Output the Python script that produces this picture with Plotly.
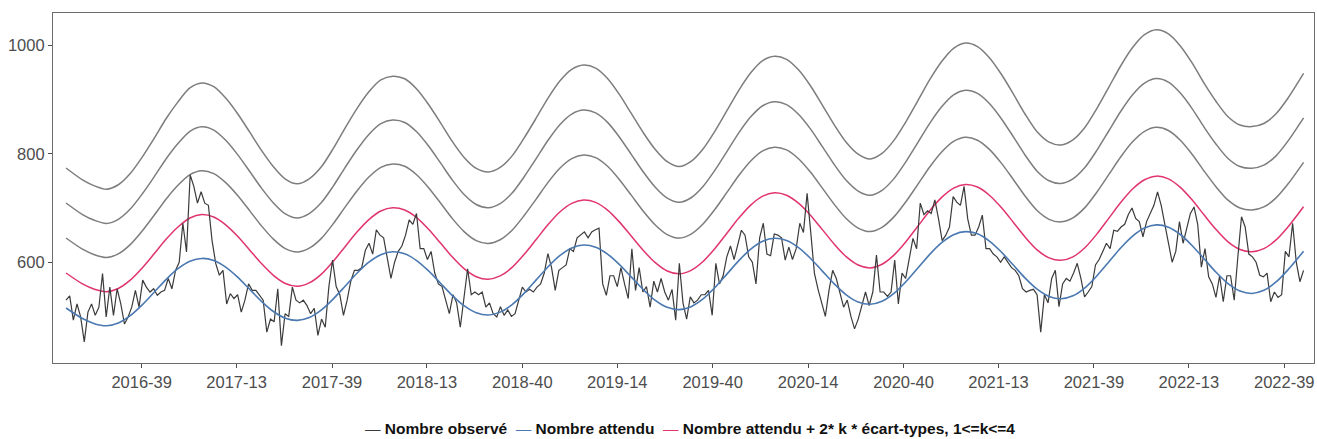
import pandas as pd
import plotly.graph_objects as go

# Série hebdomadaire observée (semaines à partir du lundi 2016-05-09)
debut = "2016-05-09"
nombre_observe = [
    530, 538, 493, 523, 499, 453, 508, 523, 502, 517,
    579, 499, 554, 502, 551, 523, 486, 499, 517, 548,
    517, 567, 554, 545, 551, 539, 545, 548, 570, 551,
    585, 600, 672, 619, 761, 740, 709, 730, 709, 705,
    640, 598, 576, 585, 523, 542, 533, 540, 508, 530,
    560, 548, 548, 540, 530, 471, 495, 490, 551, 446,
    505, 500, 554, 530, 525, 530, 520, 505, 515, 465,
    495, 480, 555, 604, 555, 540, 502, 530, 565, 585,
    585, 590, 622, 635, 615, 660, 650, 645, 610, 570,
    600, 620, 630, 650, 678, 670, 690, 625, 625, 605,
    620, 580, 560, 555, 530, 505, 540, 525, 480, 530,
    588, 540, 545, 540, 545, 517, 525, 505, 499, 518,
    502, 512, 500, 505, 530, 554, 545, 550, 545, 554,
    560, 580, 616, 590, 548, 585, 590, 595, 625, 620,
    645, 650, 656, 645, 656, 660, 663, 560, 539, 575,
    575, 555, 590, 560, 533, 625, 548, 590, 545, 555,
    517, 565, 545, 570, 545, 530, 550, 493, 598, 525,
    495, 536, 525, 530, 540, 540, 548, 502, 598, 560,
    575, 610, 630, 605, 632, 659, 650, 610, 600, 560,
    645, 672, 615, 612, 652, 650, 645, 604, 628, 605,
    625, 672, 655, 727, 655, 580, 550, 525, 500, 548,
    585, 570, 545, 517, 530, 500, 477, 495, 520, 545,
    520, 545, 613, 545, 545, 537, 545, 604, 523, 580,
    570, 605, 644, 625, 709, 688, 695, 690, 715, 680,
    640, 650, 665, 721, 711, 705, 740, 680, 650, 650,
    665, 687, 625, 625, 615, 610, 600, 610, 600, 590,
    585, 575, 551, 545, 548, 550, 540, 471, 540, 525,
    570, 585, 518, 560, 570, 565, 580, 598, 570, 536,
    545, 555, 595, 605, 620, 635, 625, 659, 657, 665,
    670, 688, 700, 681, 675, 647, 675, 690, 705, 730,
    705, 670, 635, 600, 620, 675, 635, 660, 690, 702,
    670, 591, 625, 573, 560, 535, 575, 527, 575, 575,
    530, 610, 684, 665, 615, 610, 600, 576, 573, 580,
    527, 545, 535, 540, 620, 610, 672, 600, 564, 585,
]

# Modèle saisonnier : position (en semaines depuis le début), attendu et écart-type
semaines_modele = [
    0, 4.51, 7.78, 11.05, 14.32, 17.59, 20.86, 24.13, 27.39,
    30.66, 33.93, 37.2, 40.47, 43.74, 47.01, 50.28, 53.54, 56.81, 60.08,
    63.35, 66.62, 69.89, 73.16, 76.43, 79.69, 82.96, 86.23, 89.5, 92.77,
    96.04, 99.31, 102.58, 105.84, 109.11, 112.38, 115.65, 118.92, 122.19, 125.46,
    128.73, 131.99, 135.26, 138.53, 141.8, 145.07, 148.34, 151.61, 154.88, 158.14,
    161.41, 164.68, 167.95, 171.22, 174.49, 177.76, 181.03, 184.29, 187.56, 190.83,
    194.1, 197.37, 200.64, 203.91, 207.18, 210.44, 213.71, 216.98, 220.25, 223.52,
    226.79, 230.06, 233.33, 236.59, 239.86, 243.13, 246.4, 249.67, 252.94, 256.21,
    259.48, 262.74, 266.01, 269.28, 272.55, 275.82, 279.09, 282.36, 285.63, 288.89,
    292.16, 295.43, 298.7, 301.97, 305.24, 308.51, 311.78, 315.04, 318.31, 321.58,
    324.85, 328.12, 331.39, 334.66, 339,
]
nombre_attendu = [
    515.5, 496.0, 486.6, 482.7, 487.8, 501.3, 521.2, 544.6, 568.0,
    588.0, 601.7, 607.0, 603.2, 591.0, 572.4, 550.1, 527.9, 509.0, 496.6,
    492.7, 497.9, 511.6, 531.9, 555.7, 579.6, 600.1, 614.0, 619.4, 615.5,
    603.1, 584.0, 561.3, 538.5, 519.3, 506.7, 502.6, 507.9, 521.9, 542.6,
    566.9, 591.3, 612.1, 626.3, 631.8, 627.8, 615.1, 595.6, 572.5, 549.3,
    529.6, 516.7, 512.6, 518.0, 532.2, 553.3, 578.0, 602.9, 624.1, 638.6,
    644.2, 640.1, 627.1, 607.3, 583.6, 560.0, 539.9, 526.7, 522.5, 528.0,
    542.5, 564.0, 589.2, 614.5, 636.1, 650.9, 656.5, 652.4, 639.1, 618.9,
    594.8, 570.7, 550.2, 536.8, 532.5, 538.0, 552.8, 574.7, 600.4, 626.2,
    648.2, 663.1, 668.9, 664.7, 651.2, 630.5, 606.0, 581.4, 560.5, 546.8,
    542.4, 548.1, 563.1, 585.4, 620.4,
]
ecart_type = [
    32.3, 32.0, 31.8, 31.5, 31.9, 32.8, 34.1, 35.5, 37.1,
    38.5, 40.0, 40.5, 40.1, 39.0, 37.7, 36.3, 34.8, 33.4, 32.1,
    31.5, 32.0, 33.0, 34.7, 36.5, 38.0, 39.3, 40.3, 40.5, 40.4,
    39.6, 38.4, 37.0, 35.5, 34.2, 33.3, 33.0, 33.4, 34.3, 35.8,
    37.3, 38.9, 40.3, 41.2, 41.5, 41.3, 40.5, 39.2, 37.7, 36.2,
    34.8, 33.6, 33.0, 33.5, 34.6, 36.1, 37.7, 39.3, 40.7, 41.7,
    42.0, 41.8, 41.0, 39.8, 38.3, 36.7, 35.2, 34.1, 33.5, 34.1,
    35.3, 36.9, 38.6, 40.3, 41.8, 43.0, 43.5, 43.2, 42.3, 41.0,
    39.5, 37.8, 36.3, 35.6, 35.5, 36.0, 37.0, 38.6, 40.3, 42.0,
    43.5, 44.6, 45.0, 44.6, 43.5, 42.1, 40.5, 39.4, 38.5, 38.3,
    38.5, 38.5, 38.8, 39.6, 41.0,
]
multiples_k = [1, 2, 3, 4]

# Graduations de l'axe temporel (année-semaine ISO)
dates_graduations = [
    "2016-10-01", "2017-04-01", "2017-10-01", "2018-04-01", "2018-10-01",
    "2019-04-01", "2019-10-01", "2020-04-01", "2020-10-01", "2021-04-01",
    "2021-10-01", "2022-04-01", "2022-10-01",
]
libelles_graduations = [
    "2016-39", "2017-13", "2017-39", "2018-13", "2018-40", "2019-14", "2019-40",
    "2020-14", "2020-40", "2021-13", "2021-39", "2022-13", "2022-39",
]

COUL_OBS = "#3b3b3b"
COUL_ATT = "#4a78b0"
COUL_SEUIL = "#e0356c"
COUL_GRIS = "#7d7d7d"
POLICE = "Liberation Sans, Arial, sans-serif"

dates_obs = pd.date_range(debut, periods=len(nombre_observe), freq="7D")
dates_modele = pd.to_datetime(debut) + pd.to_timedelta(
    [s * 7 for s in semaines_modele], unit="D")

fig = go.Figure()

# Seuils : attendu + 2k écarts-types
for k in multiples_k:
    seuil = [a + 2 * k * s for a, s in zip(nombre_attendu, ecart_type)]
    fig.add_trace(go.Scatter(
        x=dates_modele, y=seuil, mode="lines",
        line=dict(color=COUL_SEUIL if k == 1 else COUL_GRIS, width=1.5,
                  shape="spline", smoothing=0.8),
        showlegend=False, hoverinfo="skip",
    ))

fig.add_trace(go.Scatter(
    x=dates_obs, y=nombre_observe, mode="lines",
    line=dict(color=COUL_OBS, width=1.2),
    name="Nombre observé", showlegend=False,
))

fig.add_trace(go.Scatter(
    x=dates_modele, y=nombre_attendu, mode="lines",
    line=dict(color=COUL_ATT, width=1.6, shape="spline", smoothing=0.8),
    name="Nombre attendu", showlegend=False,
))

# Légende horizontale sous le graphique
legende = (
    f'<span style="color:{COUL_OBS}">—</span> <b>Nombre observé</b>  '
    f'<span style="color:{COUL_ATT}">—</span> <b>Nombre attendu</b>  '
    f'<span style="color:{COUL_SEUIL}">—</span> '
    '<b>Nombre attendu + 2* k * écart-types, 1&lt;=k&lt;=4</b>'
)
fig.add_annotation(
    text=legende, xref="paper", yref="paper", x=0.5048, y=-0.2171,
    xanchor="center", yanchor="bottom", showarrow=False,
    font=dict(family=POLICE, size=15.5, color="#111111"),
)

axe_commun = dict(
    showline=True, mirror=True, linecolor="#6b6b6b", linewidth=1.2,
    ticks="outside", ticklen=4, tickwidth=1, tickcolor="#4d4d4d",
    showgrid=False, zeroline=False,
    tickfont=dict(family=POLICE, size=16.5, color="#4d4d4d"),
)

fig.update_xaxes(
    type="date", range=["2016-04-14", "2022-11-27"],
    tickmode="array", tickvals=dates_graduations, ticktext=libelles_graduations,
    **axe_commun,
)
fig.update_yaxes(
    range=[414, 1060], tickmode="array", tickvals=[600, 800, 1000],
    **axe_commun,
)

fig.update_layout(
    width=1317, height=439,
    margin=dict(l=53, r=3, t=13, b=76),
    paper_bgcolor="white", plot_bgcolor="white",
    showlegend=False,
)

fig.write_html("out.html")
